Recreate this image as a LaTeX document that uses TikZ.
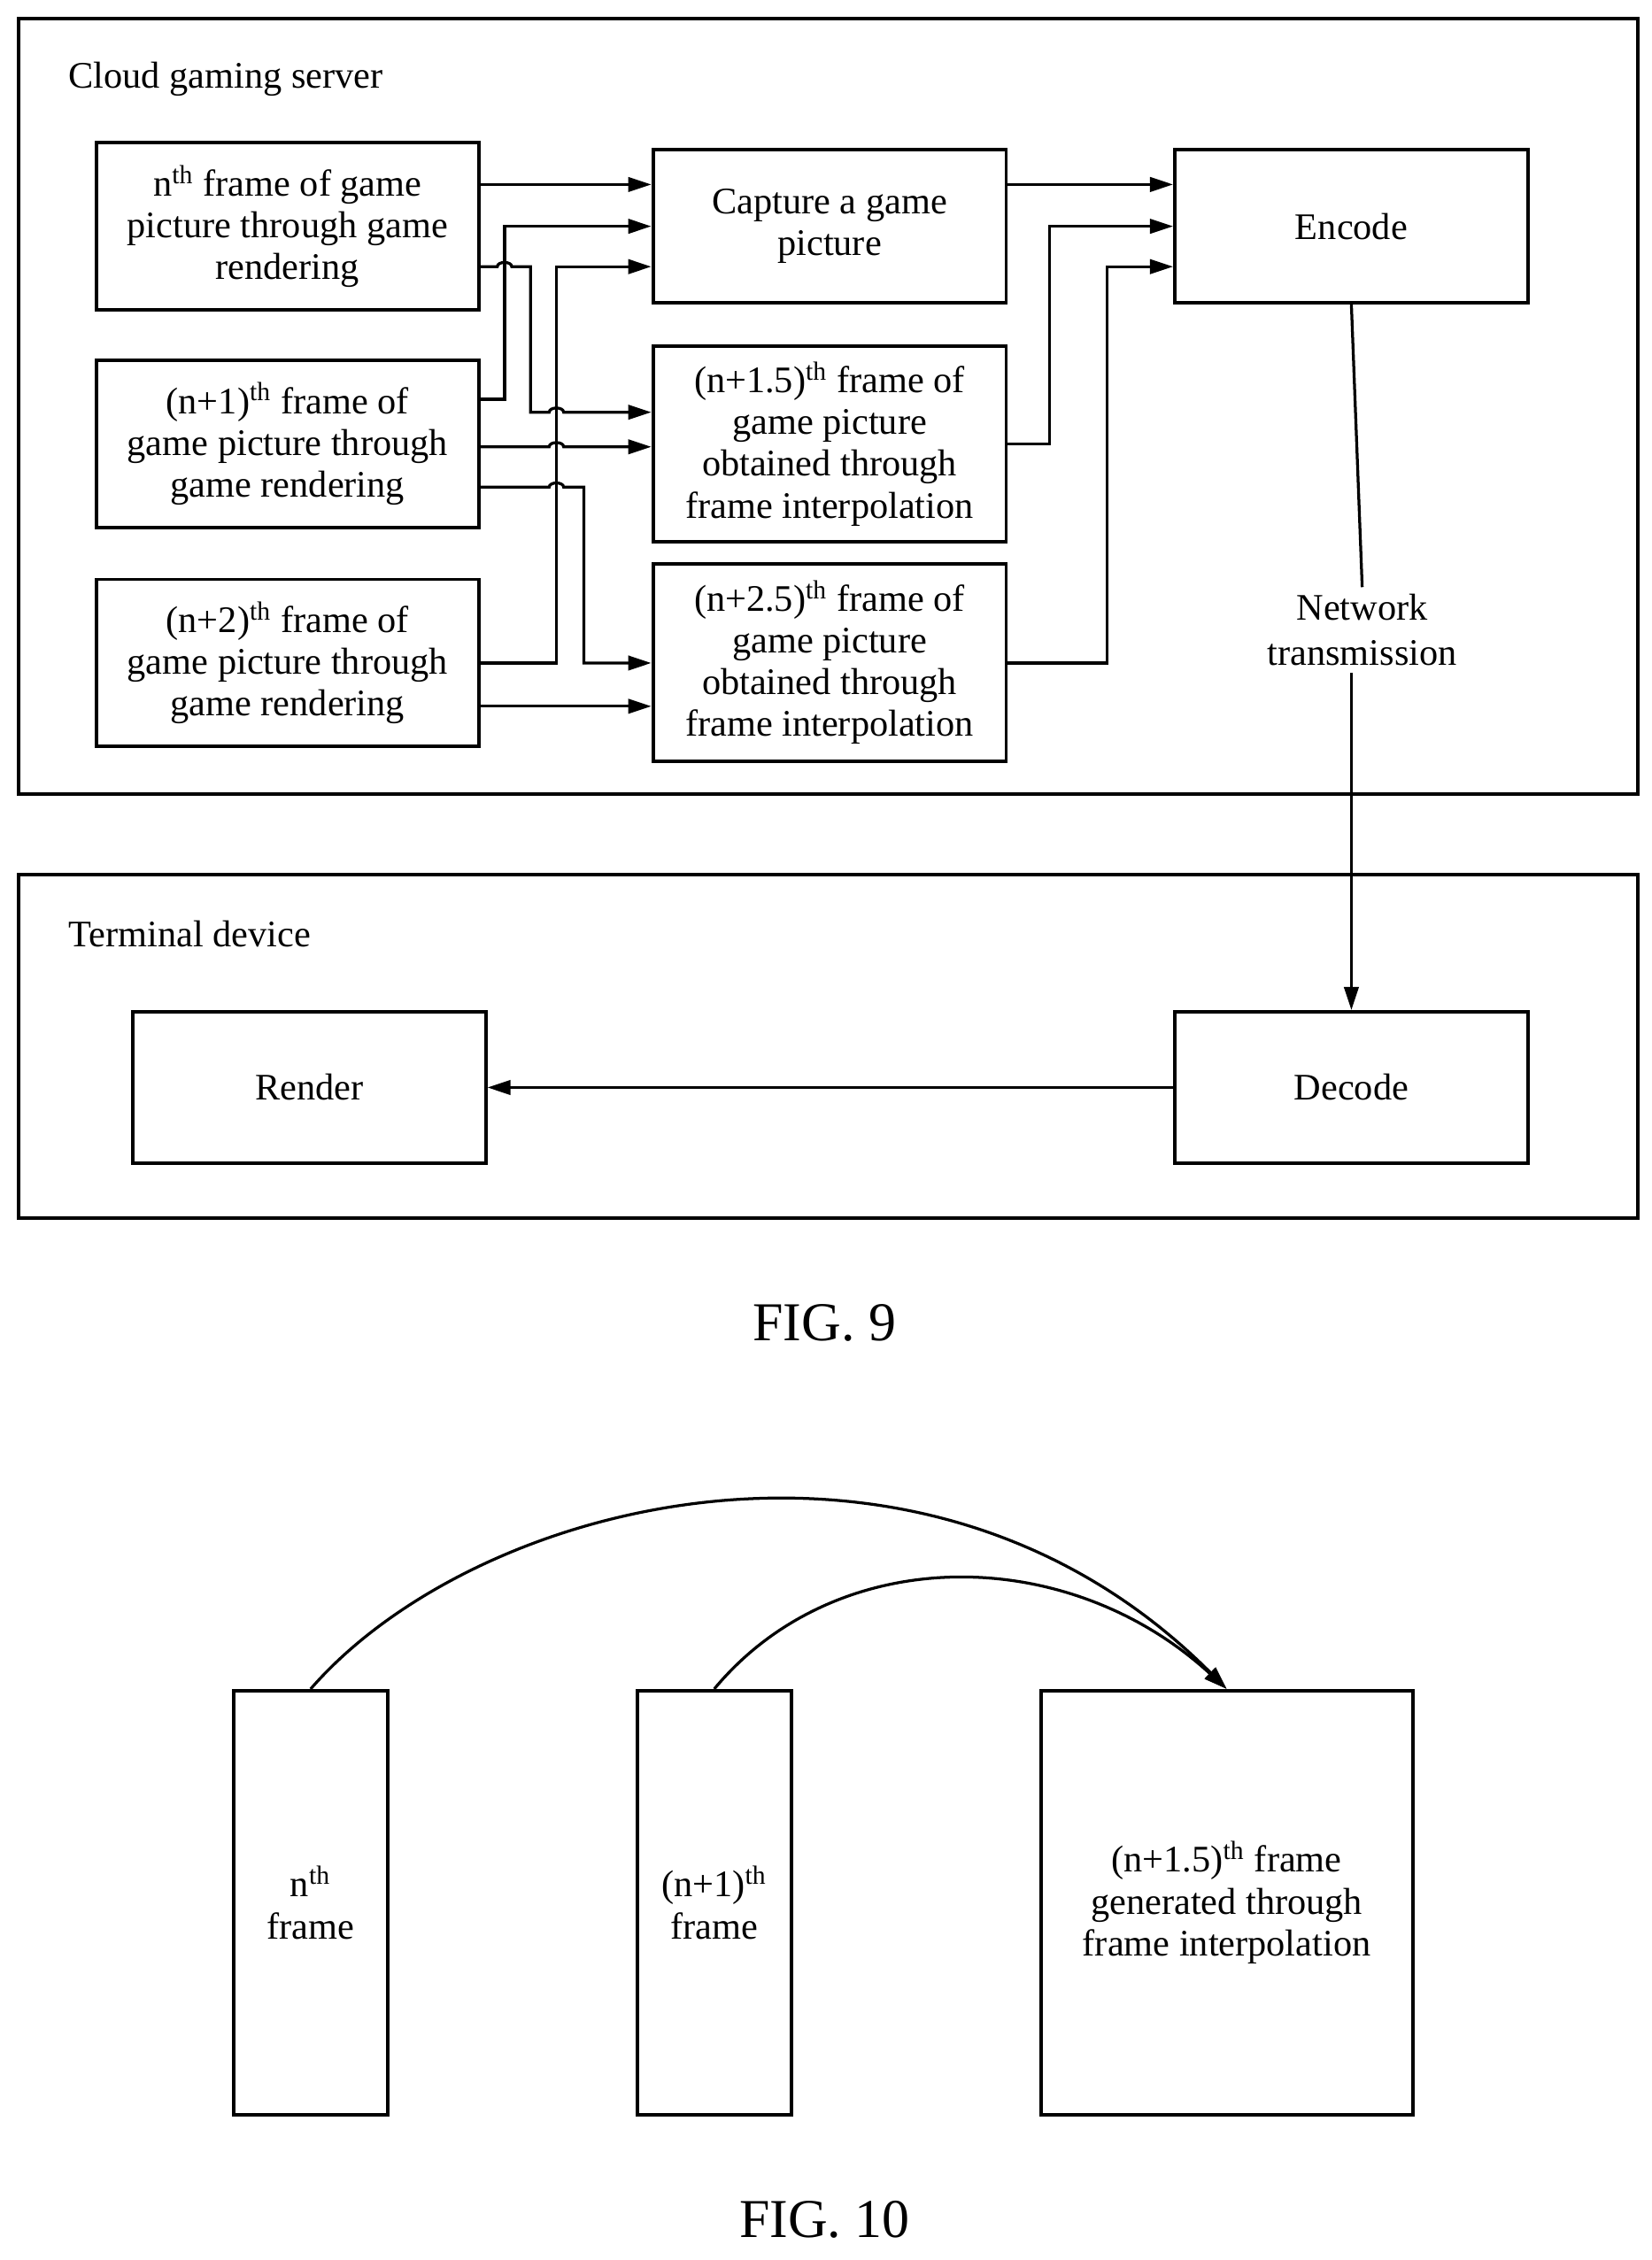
\documentclass[tikz,border=0pt]{standalone}
\usepackage{fontspec}
\setmainfont{Liberation Serif}
\usetikzlibrary{arrows.meta}
\newcommand{\thsup}{\textsuperscript{th}}
\begin{document}
\begin{tikzpicture}[x=0.5pt,y=-0.5pt,line width=1pt,
	box/.style={draw=black,line width=1.2pt,align=center,inner sep=1pt,font=\fontsize{13}{14.5}\selectfont},
	lbl/.style={font=\fontsize{13}{14.5}\selectfont,anchor=west},
	fig/.style={font=\fontsize{19}{22}\selectfont},
	arr/.style={-{Triangle[length=8pt,width=5pt]}}]
	\useasboundingbox (0,0) rectangle (1146,1568);

	% FIG. 9
	\node[draw=black,line width=1.2pt,minimum width=561.5pt,minimum height=269pt] (server) at (574.5,282) {};
	\node[lbl] (serverlbl) at (40,55) {Cloud gaming server};
	\node[draw=black,line width=1.2pt,minimum width=561.5pt,minimum height=119pt] (terminal) at (574.5,726) {};
	\node[lbl] (terminallbl) at (40,648) {Terminal device};

	\node[box,minimum width=132.5pt,minimum height=58pt] (fn) at (199.5,157) {n\thsup{} frame of game\\picture through game\\rendering};
	\node[box,minimum width=132.5pt,minimum height=58pt] (fa) at (199.5,308) {(n+1)\thsup{} frame of\\game picture through\\game rendering};
	\node[box,minimum width=132.5pt,minimum height=58pt] (fb) at (199.5,460) {(n+2)\thsup{} frame of\\game picture through\\game rendering};
	\node[box,minimum width=122.5pt,minimum height=53pt] (cap) at (575.5,157) {Capture a game\\picture};
	\node[box,minimum width=122.5pt,minimum height=68pt] (ia) at (575.5,308) {(n+1.5)\thsup{} frame of\\game picture\\obtained through\\frame interpolation};
	\node[box,minimum width=122.5pt,minimum height=68.5pt] (ib) at (575.5,459.5) {(n+2.5)\thsup{} frame of\\game picture\\obtained through\\frame interpolation};
	\node[box,minimum width=122.5pt,minimum height=53pt] (enc) at (937.5,157) {Encode};
	\node[box,minimum width=122.5pt,minimum height=52.5pt] (dec) at (937.5,754.5) {Decode};
	\node[box,minimum width=122.5pt,minimum height=52.5pt] (ren) at (214.5,754.5) {Render};
	\node[fill=white,align=center,inner sep=2pt,font=\fontsize{13}{15.5}\selectfont] (net) at (945,437) {Network\\transmission};

	\draw[arr] (fn.east |- 0,128) -- (cap.west |- 0,128);
	\draw[arr] (fa.east |- 0,277) -- (350,277) -- (350,157) -- (cap.west |- 0,157);
	\draw[arr] (fb.east |- 0,460) -- (386,460) -- (386,185) -- (cap.west |- 0,185);
	\draw[arr] (fn.east |- 0,185) -- (345,185) to[out=90,in=90] (355,185) -- (368,185) -- (368,286)
		-- (381,286) to[out=90,in=90] (391,286) -- (ia.west |- 0,286);
	\draw[arr] (fa.east |- 0,310) -- (381,310) to[out=90,in=90] (391,310) -- (ia.west |- 0,310);
	\draw[arr] (fa.east |- 0,338) -- (381,338) to[out=90,in=90] (391,338) -- (405,338) -- (405,460) -- (ib.west |- 0,460);
	\draw[arr] (fb.east |- 0,490) -- (ib.west |- 0,490);

	\draw[arr] (cap.east |- 0,128) -- (enc.west |- 0,128);
	\draw[arr] (ia.east) -- (728,308) -- (728,157) -- (enc.west |- 0,157);
	\draw[arr] (ib.east |- 0,460) -- (768,460) -- (768,185) -- (enc.west |- 0,185);
	\draw (enc.south) -- (net.north);
	\draw[arr] (net.south -| enc.south) -- (dec.north);
	\draw[arr] (dec.west) -- (ren.east);

	\node[fig] (fig9) at (572,918) {FIG. 9};

	% FIG. 10
	\node[box,minimum width=53.5pt,minimum height=147pt] (gn) at (215.5,1320) {n\thsup\\frame};
	\node[box,minimum width=53.5pt,minimum height=147pt] (ga) at (495.5,1320) {(n+1)\thsup\\frame};
	\node[box,minimum width=129pt,minimum height=147pt] (gi) at (851,1320) {(n+1.5)\thsup{} frame\\generated through\\frame interpolation};
	\draw[arr] (gn.north) .. controls (330,1040) and (640,960) .. (gi.north);
	\draw[arr] (ga.north) .. controls (580,1070) and (740,1070) .. (gi.north);

	\node[fig] (fig10) at (572,1540) {FIG. 10};
\end{tikzpicture}
\end{document}
